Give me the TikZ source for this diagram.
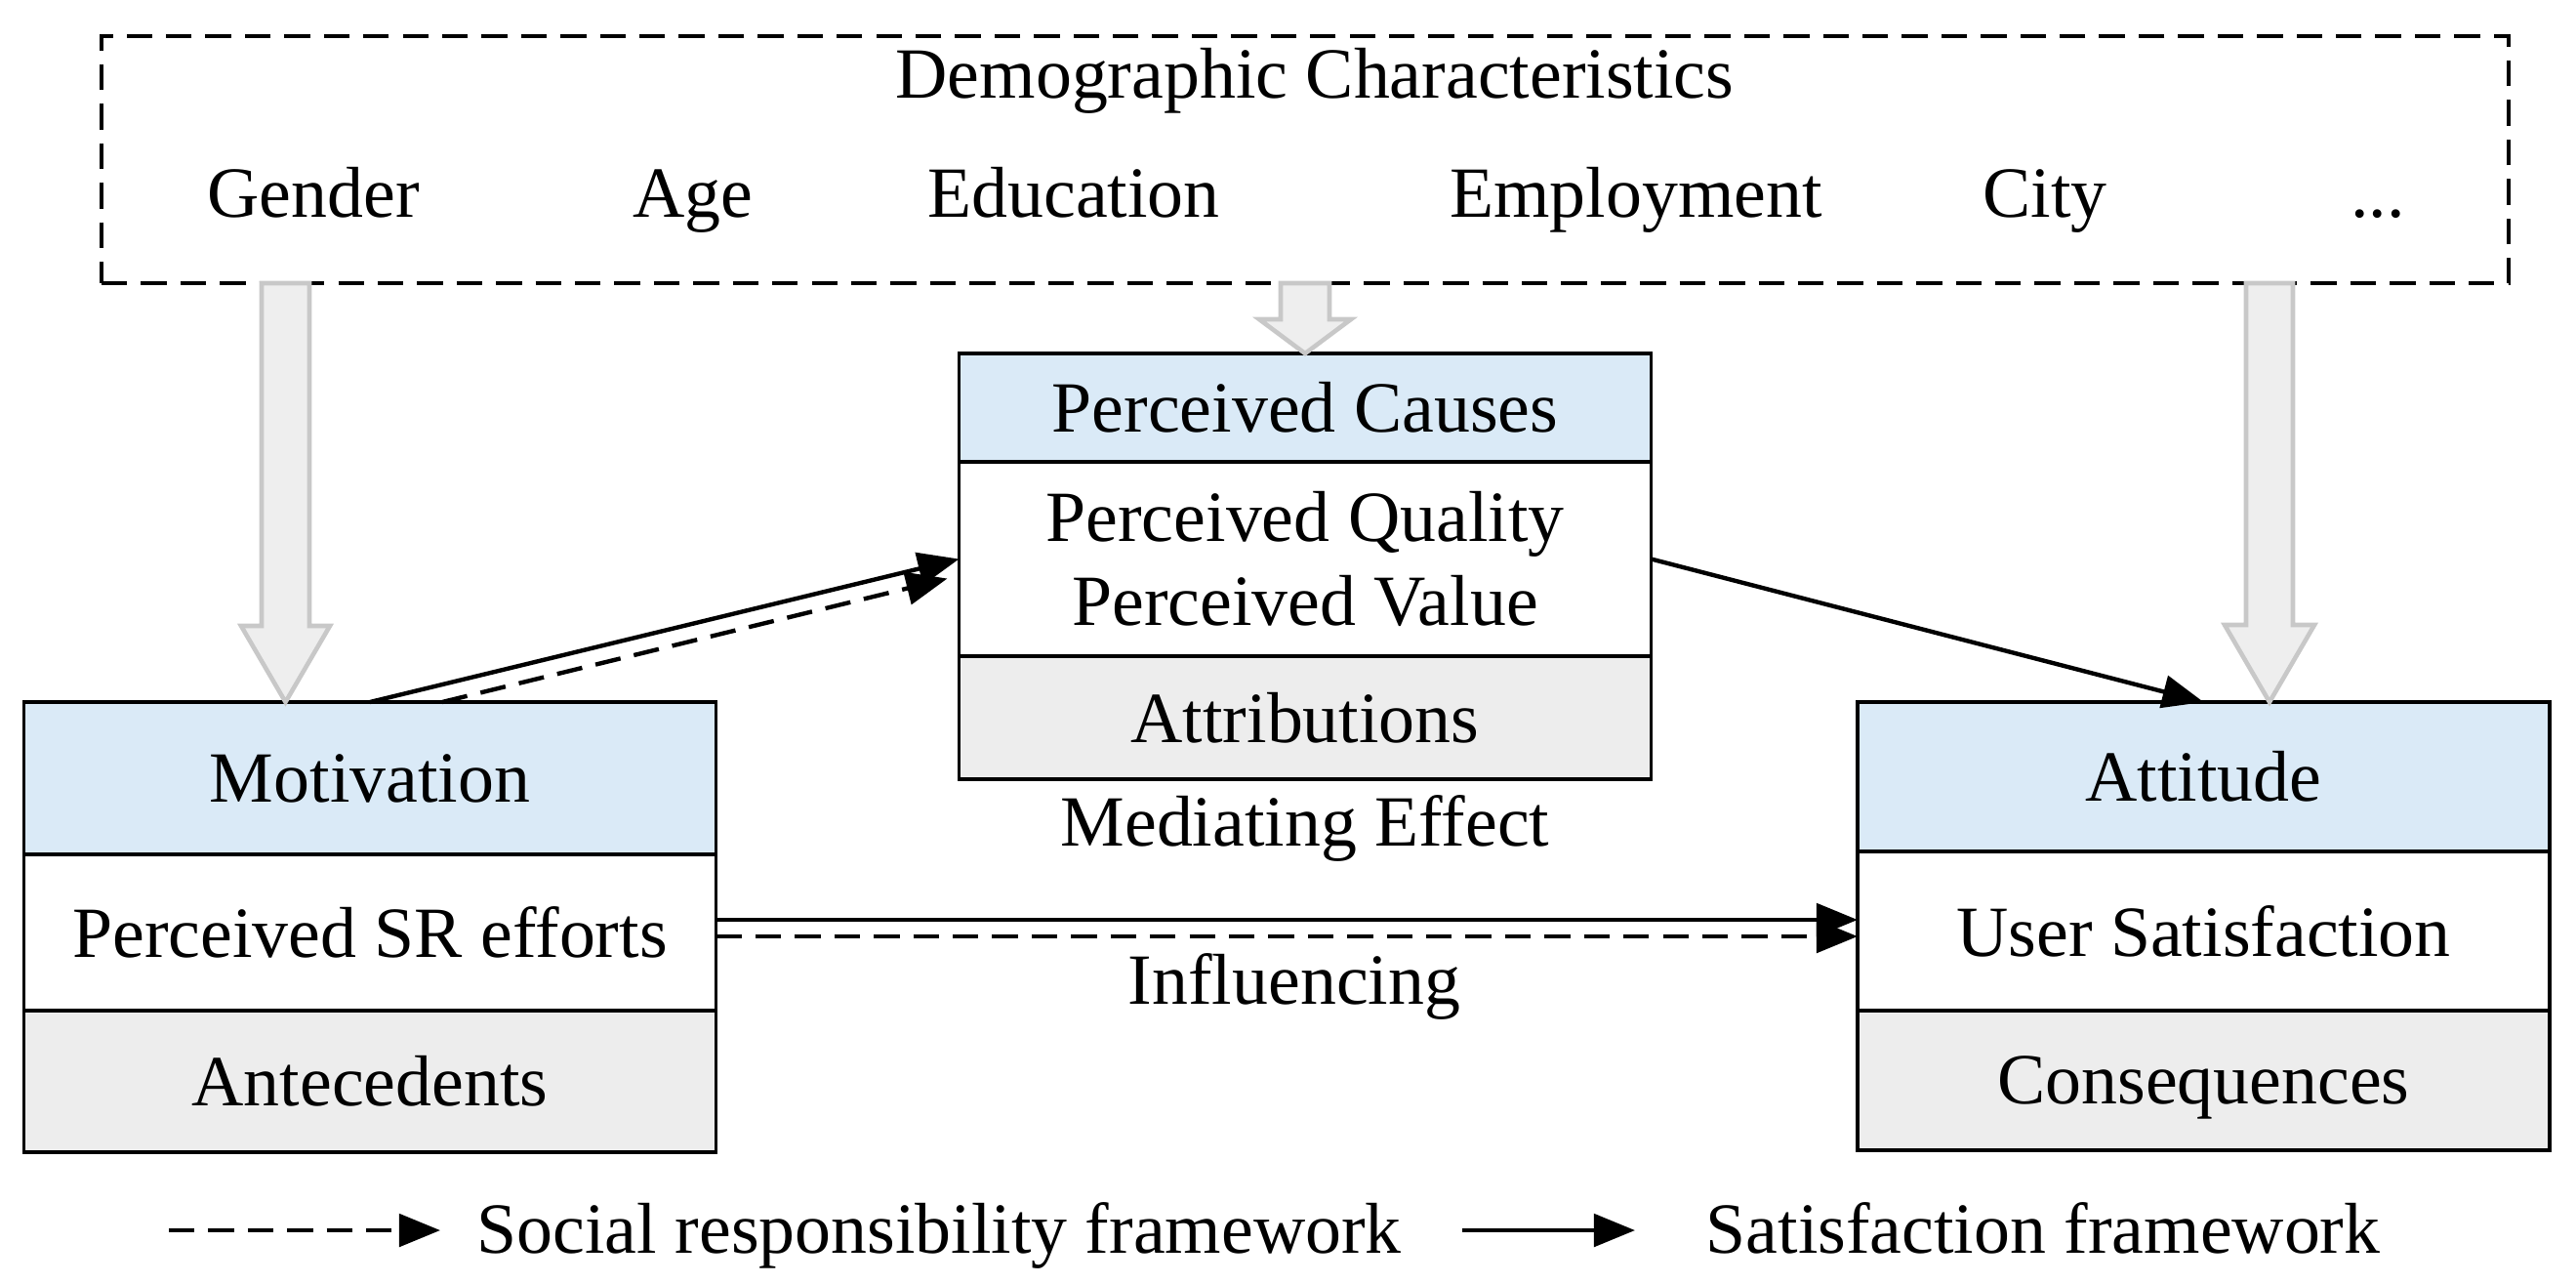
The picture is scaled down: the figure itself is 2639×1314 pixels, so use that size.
\documentclass[tikz,border=0pt]{standalone}
\usepackage{fontspec}
\setmainfont{Liberation Serif}
\usetikzlibrary{arrows.meta,positioning}
\definecolor{headblue}{RGB}{218,234,247}
\definecolor{footgray}{RGB}{237,237,237}
\definecolor{blockfill}{RGB}{238,238,238}
\definecolor{blockline}{RGB}{200,200,200}

\begin{document}
\begin{tikzpicture}[x=0.1mm,y=-0.1mm,
    every node/.style={font=\fontsize{21}{24.5}\selectfont},
    bodycell/.style={draw,line width=1.1pt,minimum width=7.09cm,inner sep=0pt,outer sep=0pt,align=center},
    header/.style={bodycell,fill=headblue},
    footer/.style={bodycell,fill=footgray},
    demoline/.style={dash pattern=on 7.5pt off 4pt,line width=1pt},
    satarrow/.style={-{Triangle[length=12pt,width=9.5pt]},line width=1.25pt},
    srarrow/.style={satarrow,dash pattern=on 7.5pt off 4pt},
    blockarrow/.style={fill=blockfill,draw=blockline,line width=1.3pt,line join=miter}]
    \useasboundingbox (0,0) rectangle (2639,1314);

    % demographic characteristics
    \node[draw,demoline,minimum width=24.66cm,minimum height=2.53cm,outer sep=0pt] (demobox) at (1337,163.5) {};
    \node[anchor=base] (demotitle) at (1347,100) {Demographic Characteristics};
    \node[anchor=base] (gender) at (321,222) {Gender};
    \node[anchor=base] (age) at (710,222) {Age};
    \node[anchor=base] (education) at (1100,222) {Education};
    \node[anchor=base] (employment) at (1676,222) {Employment};
    \node[anchor=base] (city) at (2095,222) {City};
    \node[anchor=base] (more) at (2436,222) {...};

    % antecedents
    \node[header,minimum height=1.56cm] (mot) at (379,797) {Motivation};
    \node[bodycell,minimum height=1.60cm,below=0pt of mot] (motbody) {Perceived SR efforts};
    \node[footer,minimum height=1.45cm,below=0pt of motbody] (motfoot) {Antecedents};

    % attributions
    \node[header,minimum height=1.11cm] (cause) at (1337,417.5) {Perceived Causes};
    \node[bodycell,minimum height=1.99cm,below=0pt of cause] (causebody) {Perceived Quality\\Perceived Value};
    \node[footer,minimum height=1.26cm,below=0pt of causebody] (causefoot) {Attributions};
    \node[anchor=base] (mediate) at (1337,866) {Mediating Effect};

    % consequences
    \node[header,minimum height=1.53cm] (att) at (2257.5,795.5) {Attitude};
    \node[bodycell,minimum height=1.63cm,below=0pt of att] (attbody) {User Satisfaction};
    \node[footer,minimum height=1.43cm,below=0pt of attbody,text depth=0pt] (attfoot) {Consequences};

    % gray arrows from the demographic box
    \draw[blockarrow] (268,290) -- (268,641) -- (247,641) -- (292.5,719) -- (338,641) -- (317,641) -- (317,290) -- cycle;
    \draw[blockarrow] (1312,290) -- (1312,327) -- (1290,327) -- (1337,362) -- (1384,327) -- (1362,327) -- (1362,290) -- cycle;
    \draw[blockarrow] (2301,290) -- (2301,640) -- (2279,640) -- (2325,719) -- (2371,640) -- (2349,640) -- (2349,290) -- cycle;

    % paths
    \draw[satarrow] (mot.north) -- (causebody.west);
    \draw[srarrow] ([xshift=0.74cm]mot.north) -- ([xshift=-0.12cm,yshift=-0.2cm]causebody.west);
    \draw[satarrow] (causebody.east) -- (att.north);
    \draw[satarrow] ([yshift=0.13cm]motbody.east) -- ([yshift=0.13cm]motbody.east -| attbody.west);
    \draw[srarrow] ([yshift=-0.04cm]motbody.east) -- ([yshift=-0.04cm]motbody.east -| attbody.west);
    \node[anchor=base] (influence) at (1326,1028) {Influencing};

    % legend
    \coordinate (srstart) at (173,1260);
    \coordinate (srend) at (451,1260);
    \coordinate (satstart) at (1498,1260);
    \coordinate (satend) at (1675,1260);
    \draw[srarrow] (srstart) -- (srend);
    \node[anchor=base west,inner sep=0pt] (srtext) at (488,1283) {Social responsibility framework};
    \draw[satarrow] (satstart) -- (satend);
    \node[anchor=base west,inner sep=0pt] (sattext) at (1747,1283) {Satisfaction framework};
\end{tikzpicture}
\end{document}
